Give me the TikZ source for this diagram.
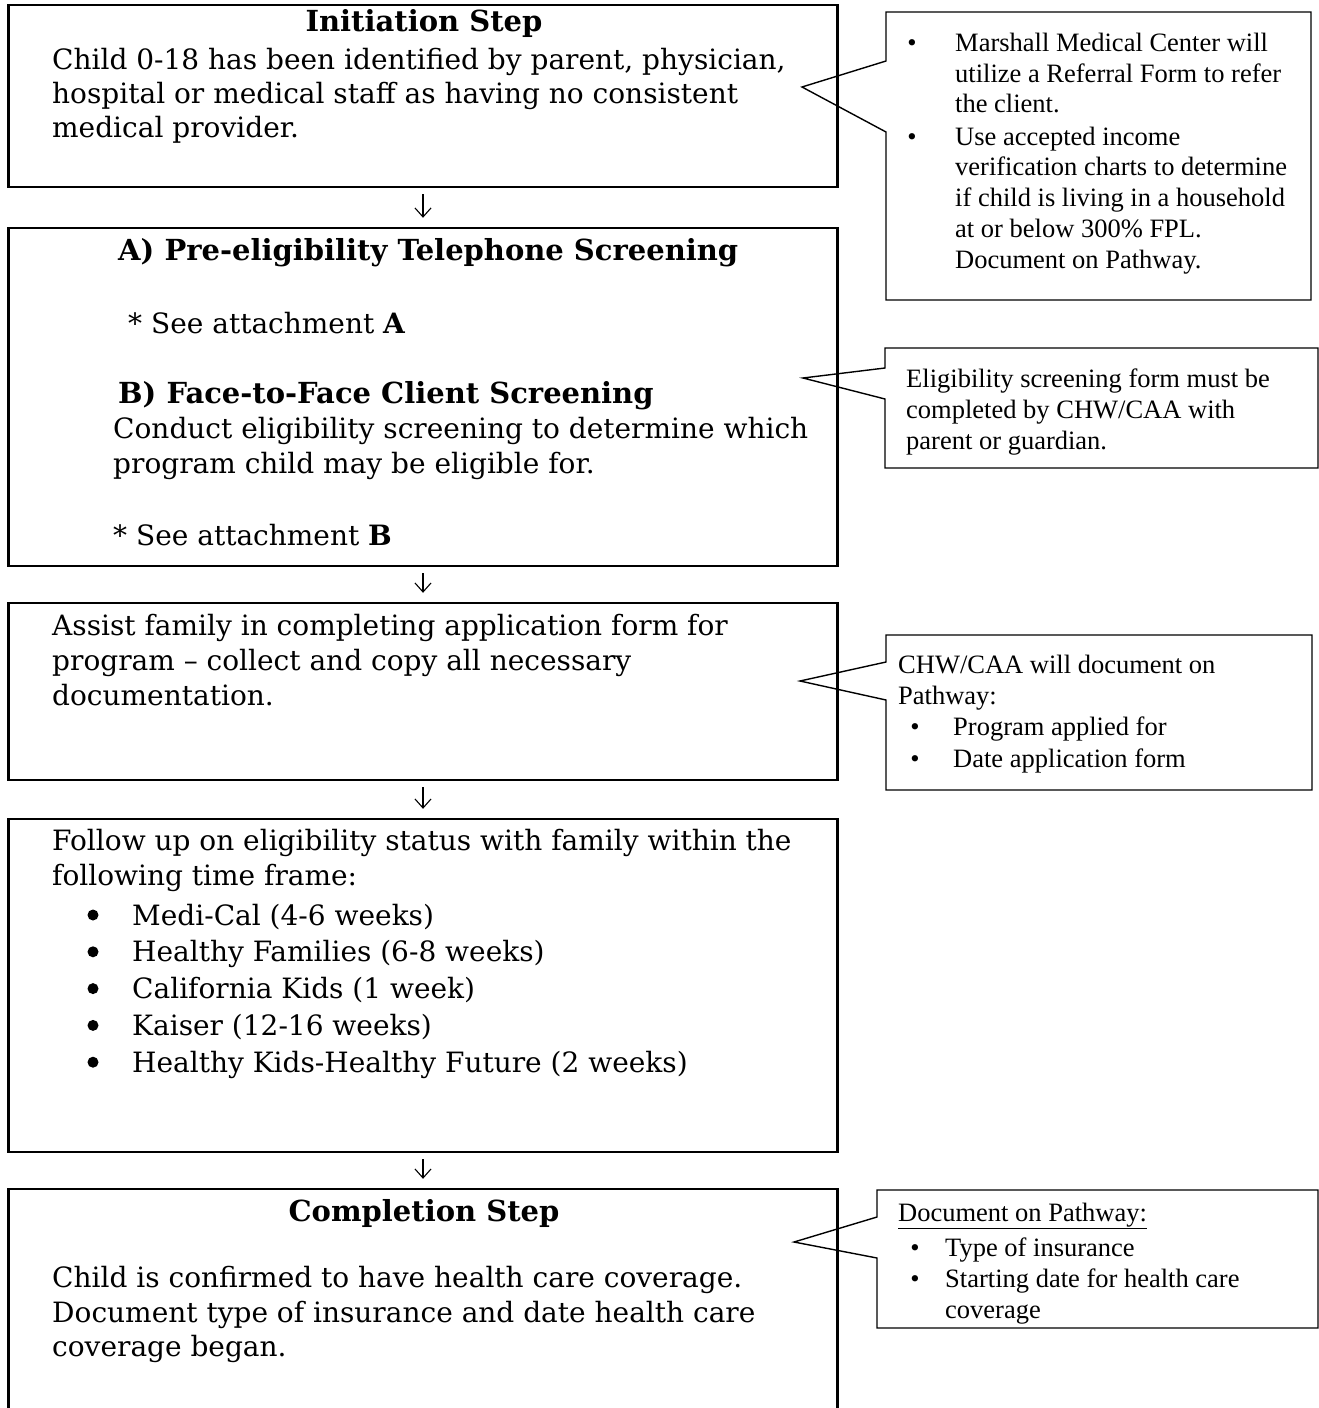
\documentclass[tikz,border=0pt]{standalone}
\usepackage{fontspec}
\setmainfont{DejaVu Serif}
\newfontfamily\cfont{Liberation Serif}
\usetikzlibrary{arrows.meta}
\begin{document}
\begin{tikzpicture}[x=1pt,y=-1pt,
  box/.style={draw, line width=2.4pt, inner sep=0pt, minimum width=829pt},
  cline/.style={draw, line width=1.4pt, line join=miter},
  arr/.style={line width=1.1pt, -{Straight Barb[length=9pt,width=16pt]}, shorten <=6pt, shorten >=9pt},
  mt/.style={font=\fontsize{28}{34}\selectfont, anchor=base west, inner sep=0pt},
  mbold/.style={font=\fontsize{29}{34}\selectfont\bfseries, anchor=base west, inner sep=0pt},
  mh/.style={font=\fontsize{29}{34}\selectfont\bfseries, anchor=base, inner sep=0pt},
  ct/.style={font=\cfont\fontsize{26.5}{31}\selectfont, anchor=base west, inner sep=0pt},
  cb/.style={font=\cfont\fontsize{26.5}{31}\selectfont, anchor=base, inner sep=0pt},
  dot/.style={circle, fill, inner sep=0pt, minimum size=11pt}]
\useasboundingbox (0,0) rectangle (1319,1408);

% main boxes
\node[box, minimum height=182pt] (b1) at (423,96) {};
\node[box, minimum height=338pt] (b2) at (423,397) {};
\node[box, minimum height=177pt] (b3) at (423,691.5) {};
\node[box, minimum height=333pt] (b4) at (423,985.5) {};
\begin{scope}
\clip (0,0) rectangle (1319,1408);
\node[box, minimum height=240pt] (b5) at (423,1309) {};
\end{scope}

% arrows
\draw[arr] (b1) -- (b2);
\draw[arr] (b2) -- (b3);
\draw[arr] (b3) -- (b4);
\draw[arr] (b4) -- (b5);

% box 1
\node[mh] (h1) at (424,31) {Initiation Step};
\node[mt] (t11) at (52,69) {Child 0-18 has been identified by parent, physician,};
\node[mt] (t12) at (52,103) {hospital or medical staff as having no consistent};
\node[mt] (t13) at (52,137) {medical provider.};

% box 2
\node[mbold] (t21) at (118,260) {A) Pre-eligibility Telephone Screening};
\node[mt] (t22) at (128,333) {* See attachment \textbf{A}};
\node[mbold] (t23) at (118,403) {B) Face-to-Face Client Screening};
\node[mt] (t24) at (113,438) {Conduct eligibility screening to determine which};
\node[mt] (t25) at (113,473) {program child may be eligible for.};
\node[mt] (t26) at (113,545) {* See attachment \textbf{B}};

% box 3
\node[mt] (t31) at (52,635) {Assist family in completing application form for};
\node[mt] (t32) at (52,670) {program – collect and copy all necessary};
\node[mt] (t33) at (52,705) {documentation.};

% box 4
\node[mt] (t41) at (52,850) {Follow up on eligibility status with family within the};
\node[mt] (t42) at (52,885) {following time frame:};
\foreach \txt [count=\i] in {Medi-Cal (4-6 weeks), Healthy Families (6-8 weeks), California Kids (1 week), Kaiser (12-16 weeks), Healthy Kids-Healthy Future (2 weeks)} {
  \node[dot] (bb\i) at (93,{915+(\i-1)*36.8}) {};
  \node[mt] (bt\i) at (132,{925+(\i-1)*36.8}) {\txt};
}

% box 5
\node[mh] (h5) at (424,1221) {Completion Step};
\node[mt] (t51) at (52,1287) {Child is confirmed to have health care coverage.};
\node[mt] (t52) at (52,1322) {Document type of insurance and date health care};
\node[mt] (t53) at (52,1356) {coverage began.};

% callout 1
\coordinate (p1) at (802,87);
\draw[cline] (886,12) -- (1311,12) -- (1311,300) -- (886,300) -- (886,132) -- (p1) -- (886,61) -- cycle;
\node[cb] (c1b1) at (912,51) {•};
\node[ct] (c11) at (955,51) {Marshall Medical Center will};
\node[ct] (c12) at (955,82) {utilize a Referral Form to refer};
\node[ct] (c13) at (955,112) {the client.};
\node[cb] (c1b2) at (912,145) {•};
\node[ct] (c14) at (955,145) {Use accepted income};
\node[ct] (c15) at (955,175) {verification charts to determine};
\node[ct] (c16) at (955,206) {if child is living in a household};
\node[ct] (c17) at (955,237) {at or below 300\% FPL.};
\node[ct] (c18) at (955,268) {Document on Pathway.};

% callout 2
\coordinate (p2) at (803,378);
\draw[cline] (885,348) -- (1318,348) -- (1318,468) -- (885,468) -- (885,399) -- (p2) -- (885,368) -- cycle;
\node[ct] (c21) at (906,387) {Eligibility screening form must be};
\node[ct] (c22) at (906,418) {completed by CHW/CAA with};
\node[ct] (c23) at (906,449) {parent or guardian.};

% callout 3
\coordinate (p3) at (800,681);
\draw[cline] (886,635) -- (1312,635) -- (1312,790) -- (886,790) -- (886,700) -- (p3) -- (886,662) -- cycle;
\node[ct] (c31) at (898,673) {CHW/CAA will document on};
\node[ct] (c32) at (898,704) {Pathway:};
\node[cb] (c3b1) at (915,735) {•};
\node[ct] (c33) at (953,735) {Program applied for};
\node[cb] (c3b2) at (915,767) {•};
\node[ct] (c34) at (953,767) {Date application form};

% callout 4
\coordinate (p4) at (794,1242);
\draw[cline] (877,1190) -- (1318,1190) -- (1318,1328) -- (877,1328) -- (877,1258) -- (p4) -- (877,1217) -- cycle;
\node[ct] (c41) at (898,1221) {\underline{Document on Pathway:}};
\node[cb] (c4b1) at (915,1256) {•};
\node[ct] (c42) at (945,1256) {Type of insurance};
\node[cb] (c4b2) at (915,1287) {•};
\node[ct] (c43) at (945,1287) {Starting date for health care};
\node[ct] (c44) at (945,1318) {coverage};
\end{tikzpicture}
\end{document}
